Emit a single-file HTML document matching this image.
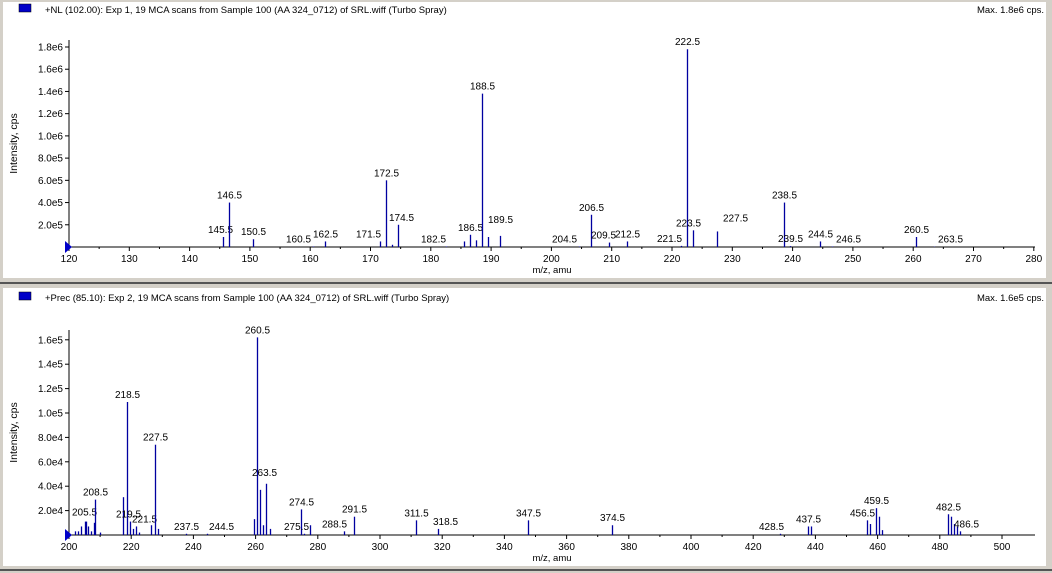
<!DOCTYPE html>
<html><head><meta charset="utf-8"><style>
html,body{margin:0;padding:0;background:#d4d0c8;}
svg{display:block;font-family:"Liberation Sans",sans-serif;}
</style></head><body>
<svg id="s" width="1052" height="573" xmlns="http://www.w3.org/2000/svg">
<rect x="0" y="0" width="1052" height="573" fill="#d4d0c8"/>
<rect x="3" y="2" width="1043" height="276" fill="#fff"/>
<line x1="0" y1="283" x2="1052" y2="283" stroke="#555" stroke-width="2"/>
<rect x="3" y="288" width="1043" height="278" fill="#fff"/>
<rect x="4" y="567" width="1048" height="6" fill="#d4d0c8"/>
<line x1="0" y1="570" x2="1052" y2="570" stroke="#555" stroke-width="2"/>
<rect x="19" y="4" width="12" height="8" fill="#0000c8" stroke="#000" stroke-width="0.5"/>
<text x="45" y="13" font-size="9.5">+NL (102.00): Exp 1, 19 MCA scans from Sample 100 (AA 324_0712) of SRL.wiff (Turbo Spray)</text>
<text x="1044" y="13" font-size="9.5" text-anchor="end">Max. 1.8e6 cps.</text>
<rect x="19" y="292" width="12" height="8" fill="#0000c8" stroke="#000" stroke-width="0.5"/>
<text x="45" y="301" font-size="9.5">+Prec (85.10): Exp 2, 19 MCA scans from Sample 100 (AA 324_0712) of SRL.wiff (Turbo Spray)</text>
<text x="1044" y="301" font-size="9.5" text-anchor="end">Max. 1.6e5 cps.</text>
<g id="g"></g>
</svg>
<script>
var g=document.getElementById('g'),h='';
function L(a,b,c,d,col,w){h+='<line x1="'+a+'" y1="'+b+'" x2="'+c+'" y2="'+d+'" stroke="'+(col||'#000')+'" stroke-width="'+(w||1)+'"/>';}
function T(x,y,t,anc){h+='<text x="'+x+'" y="'+y+'" font-size="10" text-anchor="'+(anc||'middle')+'">'+t+'</text>';}
function panel(o){
 var X=function(m){return o.x0+(m-o.m0)*o.sx;},Y=function(v){return o.base-v*o.sy;};
 L(o.x0,o.base,o.x1,o.base);L(o.x0,o.top,o.x0,o.base);
 for(var m=o.m0;m<=o.m1;m+=o.step){var x=X(m);L(x,o.base,x,o.base+4);T(x,o.base+15,m);}
 for(var m=o.m0+o.step/2;m<o.m1;m+=o.step){var x=X(m);L(x,o.base,x,o.base+2);}
 o.yt.forEach(function(v){var y=Y(v[0]);L(o.x0-4,y,o.x0,y);T(o.x0-6,y+3.5,v[1],'end');});
 h+='<polygon points="'+(o.x0-4)+','+(o.base-6)+' '+(o.x0+3)+','+o.base+' '+(o.x0-4)+','+(o.base+6)+'" fill="#0000c8"/>';
 o.pk.forEach(function(p){var x=Math.round(X(p[0]))+0.5;L(x,o.base,x,Y(p[1]),'#0000a0',1.3);if(p[2])T(x+(p[3]||0),Y(p[1])-4+(p[4]||0),p[0].toFixed(1));});
 h+='<text x="'+((o.x0+o.x1)/2)+'" y="'+(o.base+26)+'" font-size="9.5" text-anchor="middle">m/z, amu</text>';
 h+='<text transform="translate(17,'+((o.top+o.base)/2)+') rotate(-90)" font-size="10.5" text-anchor="middle">Intensity, cps</text>';
}
panel({x0:69,x1:1035,m0:120,m1:280,step:10,sx:6.03,base:247,top:40,sy:200/1.8e6,
 yt:[[2e5,'2.0e5'],[4e5,'4.0e5'],[6e5,'6.0e5'],[8e5,'8.0e5'],[1e6,'1.0e6'],[1.2e6,'1.2e6'],[1.4e6,'1.4e6'],[1.6e6,'1.6e6'],[1.8e6,'1.8e6']],
 pk:[[145.5,90000,1,-3],[146.5,400000,1],[150.5,70000,1,0],[160.5,5000,1,-15],[162.5,50000,1],[171.5,50000,1,-12],[172.5,600000,1],[173.5,20000],[174.5,200000,1,3],
 [182.5,5000,1,-13],[185.5,50000],[186.5,110000,1],[187.5,60000],[188.5,1380000,1],[189.5,90000,1,12,-10],[191.5,100000],[204.5,5000,1,-15],[206.5,290000,1],
 [209.5,40000,1,-6],[212.5,50000,1],[221.5,10000,1,-12],[222.5,1780000,1],[223.5,150000,1,-5],[227.5,140000,1,18,-6],[238.5,400000,1],[239.5,8000,1,0],[244.5,50000,1],
 [246.5,5000,1,16],[260.5,90000,1],[263.5,3000,1,16]]});
panel({x0:69,x1:1035,m0:200,m1:500,step:20,sx:3.11,base:535,top:330,sy:24.4/2e4,
 yt:[[2e4,'2.0e4'],[4e4,'4.0e4'],[6e4,'6.0e4'],[8e4,'8.0e4'],[1e5,'1.0e5'],[1.2e5,'1.2e5'],[1.4e5,'1.4e5'],[1.6e5,'1.6e5']],
 pk:[[202,3000],[203,3000],[204,7000],[205,11000],[205.5,11000,1,-2,-2],[206,7000],[207,3000],[208,10000],[208.5,29000,1],[210,2000],[217.5,31000],[218.5,109000,1],
 [219.5,11000,1,-2],[220.5,5000],[221.5,7000,1,8],[222.5,2000],[226.5,8000],[227.5,74000,1],[228.5,5000],[237.5,1000,1],[244.5,1000,1,14],[259.5,13000],[260.5,162000,1],
 [261.5,37000],[262.5,8000],[263.5,42000,1,-2,-4],[264.5,5000],[274.5,21000,1],[275.5,1000,1,-8],[277.5,8000],[288.5,3000,1,-10],[291.5,15000,1],[311.5,12000,1],
 [318.5,5000,1,7],[347.5,12000,1],[374.5,8000,1],[428.5,1000,1,-9],[437.5,7000,1],[438.5,7000],[456.5,12000,1,-5],[457.5,9000],[459.5,22000,1],[460.5,15000],[461.5,4000],
 [482.5,17000,1],[483.5,15000],[484.5,9000],[485.5,7000],[486.5,3000,1,6]]});
g.innerHTML=h;
</script>
</body></html>
